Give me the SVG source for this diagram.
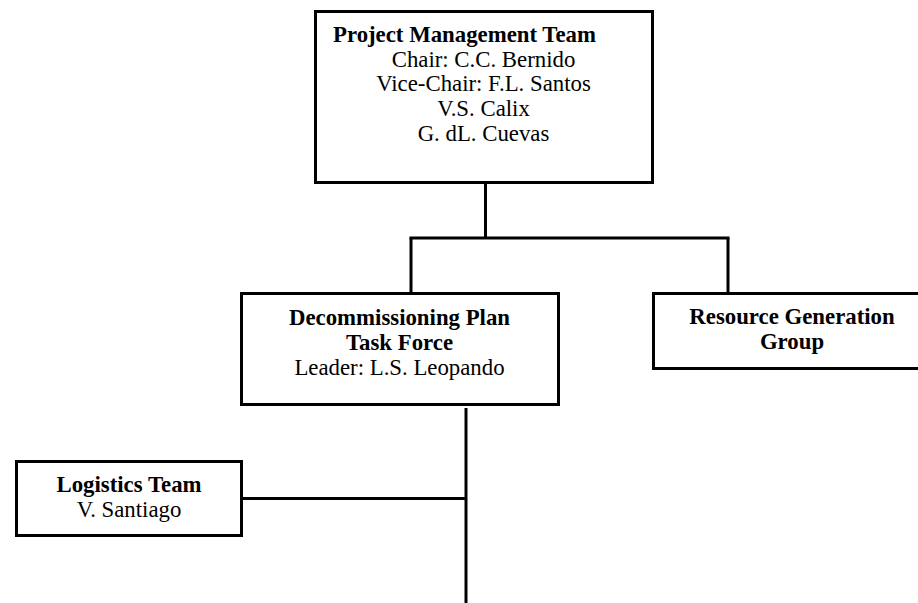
<svg xmlns="http://www.w3.org/2000/svg" width="918" height="603" viewBox="0 0 918 603">
<style>
.box{fill:#fff;stroke:#000;stroke-width:3}
.ln{fill:none;stroke:#000;stroke-width:3}
text{font-family:"Liberation Serif","Times New Roman",serif;font-size:22.8px;fill:#000}
.b{font-weight:bold}
.c{text-anchor:middle}
</style>
<rect width="918" height="603" fill="#fff"/>
<g id="connectors">
<line class="ln" x1="485.5" y1="182" x2="485.5" y2="238"/>
<line class="ln" x1="409.5" y1="238" x2="729.5" y2="238"/>
<line class="ln" x1="411" y1="238" x2="411" y2="293"/>
<line class="ln" x1="728" y1="238" x2="728" y2="293"/>
<line class="ln" x1="466" y1="408" x2="466" y2="603"/>
<line class="ln" x1="242" y1="498.5" x2="466" y2="498.5"/>
</g>
<g id="pmt">
<rect class="box" x="315.5" y="11.5" width="337" height="171"/>
<text class="b" x="333" y="41.7">Project Management Team</text>
<text class="c" x="483.5" y="66.5">Chair: C.C. Bernido</text>
<text class="c" x="483.5" y="91.2">Vice-Chair: F.L. Santos</text>
<text class="c" x="483.5" y="116">V.S. Calix</text>
<text class="c" x="483.5" y="140.7">G. dL. Cuevas</text>
</g>
<g id="dptf">
<rect class="box" x="241.5" y="293.5" width="317" height="111"/>
<text class="b c" x="399.5" y="325">Decommissioning Plan</text>
<text class="b c" x="399.5" y="350">Task Force</text>
<text class="c" x="399.5" y="375">Leader: L.S. Leopando</text>
</g>
<g id="rgg">
<rect class="box" x="653.5" y="293.5" width="270" height="75"/>
<text class="b c" x="792" y="324">Resource Generation</text>
<text class="b c" x="792" y="349">Group</text>
</g>
<g id="logistics">
<rect class="box" x="16.5" y="461.5" width="225" height="74"/>
<text class="b c" x="129" y="492">Logistics Team</text>
<text class="c" x="129" y="517">V. Santiago</text>
</g>
</svg>
